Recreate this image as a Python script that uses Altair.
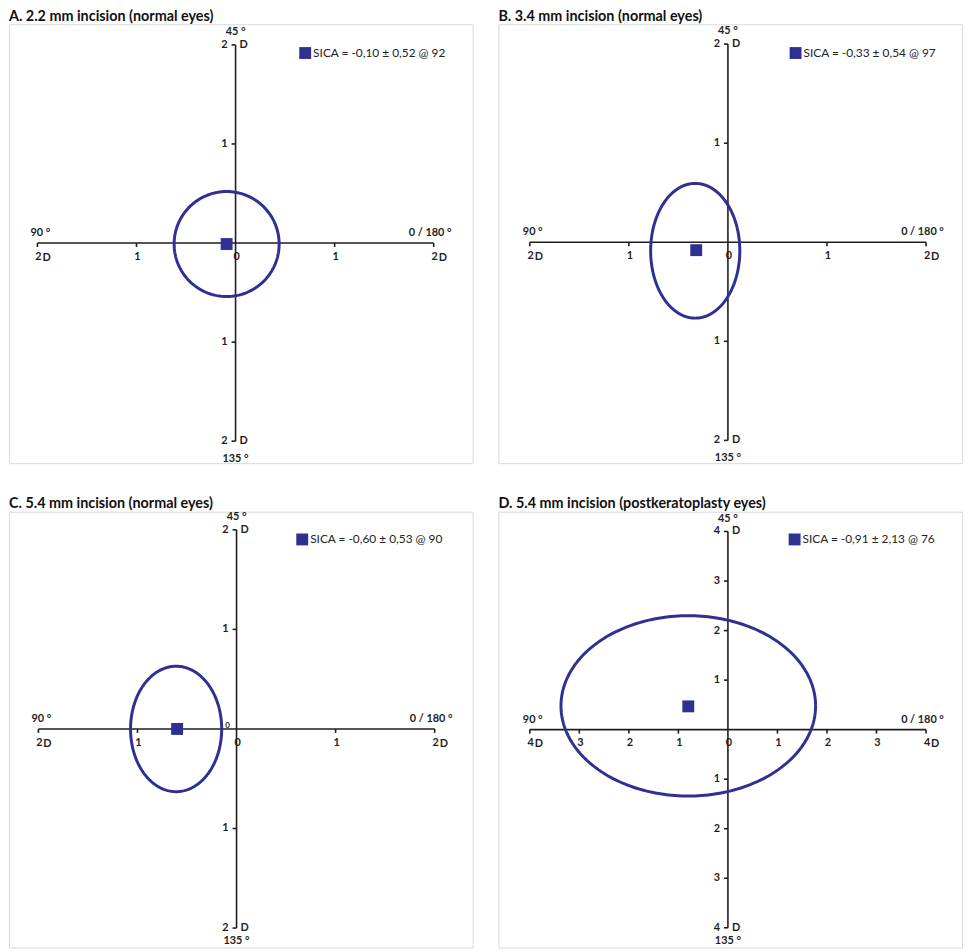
import altair as alt
import numpy as np
import pandas as pd

BLUE = "#2E3192"
AXC = "#1e1e1e"
FONT = "Lato"

# ---------------- data ----------------
titles = [
    "A. 2.2 mm incision (normal eyes)",
    "B. 3.4 mm incision (normal eyes)",
    "C. 5.4 mm incision (normal eyes)",
    "D. 5.4 mm incision (postkeratoplasty eyes)",
]
legend_labels = [
    "SICA = -0,10 ± 0,52 @ 92",
    "SICA = -0,33 ± 0,54 @ 97",
    "SICA = -0,60 ± 0,53 @ 90",
    "SICA = -0,91 ± 2,13 @ 76",
]
axis_max = [2, 2, 2, 4]
centroid_x = [-0.09, -0.32, -0.60, -0.80]
centroid_y = [-0.01, -0.08, 0.00, 0.47]
ellipse_cx = [-0.09, -0.33, -0.61, -0.80]
ellipse_cy = [-0.01, -0.086, 0.00, 0.48]
ellipse_rx = [0.53, 0.45, 0.46, 2.57]
ellipse_ry = [0.53, 0.68, 0.63, 1.82]
angle_left = "90 °"
angle_right = "0 / 180 °"
angle_top = "45 °"
angle_bottom = "135 °"
unit = "D"

# scale domains and sizes (layout)
x_domains = [[-2.287, 2.393], [-2.317, 2.363], [-2.297, 2.383], [-4.634, 4.726]]
y_domains = [[-2.222, 2.208], [-2.23, 2.20], [-2.196, 2.182], [-4.4, 4.4]]
heights = [443, 443, 440, 440]
legend_x = [293, 294, 290, 293]
legend_y = [23, 23, 22, 22]
bottom_dy = [18, 18, 13, 13]
W = 468


def panel(i):
    R = axis_max[i]
    xs = alt.Scale(domain=x_domains[i], nice=False, zero=False)
    ys = alt.Scale(domain=y_domains[i], nice=False, zero=False)
    X = lambda f: alt.X(f, type="quantitative", scale=xs, axis=None)
    Y = lambda f: alt.Y(f, type="quantitative", scale=ys, axis=None)

    ticks = list(range(-R, R + 1))
    nz = [v for v in ticks if v != 0]

    hline = alt.Chart(pd.DataFrame({"x": [-R], "x2": [R], "y": [0]})).mark_rule(
        color=AXC, strokeWidth=1.6).encode(x=X("x"), x2="x2", y=Y("y"))
    vline = alt.Chart(pd.DataFrame({"y": [-R], "y2": [R], "x": [0]})).mark_rule(
        color=AXC, strokeWidth=1.6).encode(y=Y("y"), y2="y2", x=X("x"))

    htick = alt.Chart(pd.DataFrame({"v": nz, "z": [0] * len(nz)})).mark_rule(
        color=AXC, strokeWidth=1.6, y2Offset=4).encode(x=X("v"), y=Y("z"), y2="z")
    vtick = alt.Chart(pd.DataFrame({"v": nz, "z": [0] * len(nz)})).mark_rule(
        color=AXC, strokeWidth=1.6, x2Offset=-4).encode(y=Y("v"), x=X("z"), x2="z")

    tstyle = dict(font=FONT, fontWeight="bold", fontSize=11, color=AXC, baseline="middle")

    hlab = alt.Chart(pd.DataFrame({"v": ticks, "z": [0] * len(ticks),
                                   "t": [str(abs(v)) for v in ticks]})).mark_text(
        dy=14, dx=1, align="center", **tstyle).encode(x=X("v"), y=Y("z"), text="t:N")
    hD = alt.Chart(pd.DataFrame({"v": [-R, R], "z": [0, 0], "t": [unit, unit]})).mark_text(
        dy=15, dx=5, align="left", **tstyle).encode(x=X("v"), y=Y("z"), text="t:N")
    vlab = alt.Chart(pd.DataFrame({"v": nz, "z": [0] * len(nz),
                                   "t": [str(abs(v)) for v in nz]})).mark_text(
        dx=-8, align="right", **tstyle).encode(y=Y("v"), x=X("z"), text="t:N")
    vD = alt.Chart(pd.DataFrame({"v": [-R, R], "z": [0, 0], "t": [unit, unit]})).mark_text(
        dx=4, align="left", **tstyle).encode(y=Y("v"), x=X("z"), text="t:N")

    top = alt.Chart(pd.DataFrame({"x": [0], "y": [R], "t": [angle_top]})).mark_text(
        dy=-13, align="center", **tstyle).encode(x=X("x"), y=Y("y"), text="t:N")
    bot = alt.Chart(pd.DataFrame({"x": [0], "y": [-R], "t": [angle_bottom]})).mark_text(
        dy=bottom_dy[i], align="center", **tstyle).encode(x=X("x"), y=Y("y"), text="t:N")
    left = alt.Chart(pd.DataFrame({"x": [-R], "y": [0], "t": [angle_left]})).mark_text(
        dy=-10, dx=-7, align="left", **tstyle).encode(x=X("x"), y=Y("y"), text="t:N")
    right = alt.Chart(pd.DataFrame({"x": [R], "y": [0], "t": [angle_right]})).mark_text(
        dy=-10, dx=18, align="right", **tstyle).encode(x=X("x"), y=Y("y"), text="t:N")

    t = np.linspace(0, 2 * np.pi, 241)
    ell_df = pd.DataFrame({
        "x": ellipse_cx[i] + ellipse_rx[i] * np.cos(t),
        "y": ellipse_cy[i] + ellipse_ry[i] * np.sin(t),
        "o": np.arange(len(t)),
    })
    ell = alt.Chart(ell_df).mark_line(color=BLUE, strokeWidth=3).encode(
        x=X("x"), y=Y("y"), order="o:Q")

    pt = alt.Chart(pd.DataFrame({"x": [centroid_x[i]], "y": [centroid_y[i]],
                                 "label": [legend_labels[i]]})).mark_square(
        size=144, opacity=1, filled=True).encode(
        x=X("x"), y=Y("y"),
        color=alt.Color("label:N",
                        scale=alt.Scale(domain=[legend_labels[i]], range=[BLUE]),
                        legend=alt.Legend(title=None, orient="none", legendX=legend_x[i],
                                          legendY=legend_y[i],
                                          padding=0, symbolType="square", symbolSize=144,
                                          symbolStrokeWidth=0, labelFont=FONT,
                                          labelFontSize=12, labelColor="#222",
                                          labelOffset=2)))

    layers = [hline, vline, htick, vtick, ell, pt, hlab, hD, vlab, vD, top, bot, left, right]
    if i == 2:
        quirk = alt.Chart(pd.DataFrame({"x": [-0.09], "y": [0.0], "t": ["0"]})).mark_text(
            font=FONT, fontSize=8, fontWeight="bold", color=AXC, dy=-3).encode(
            x=X("x"), y=Y("y"), text="t:N")
        layers.append(quirk)

    return alt.layer(*layers).properties(
        width=W, height=heights[i],
        title=alt.TitleParams(titles[i], anchor="start", fontSize=14.5, font=FONT,
                              fontWeight="bold", color="#111", offset=0),
    )


row1 = alt.hconcat(panel(0), panel(1), spacing=24).resolve_scale(color="independent")
row2 = alt.hconcat(panel(2), panel(3), spacing=24).resolve_scale(color="independent")
chart = alt.vconcat(row1, row2, spacing=30).resolve_scale(color="independent").properties(
    padding={"top": -4, "left": 0, "right": 0, "bottom": 0}
).configure_view(stroke="#d9d9d9", strokeWidth=1)

chart.save("out.html", embed_options={"renderer": "svg", "actions": False})
